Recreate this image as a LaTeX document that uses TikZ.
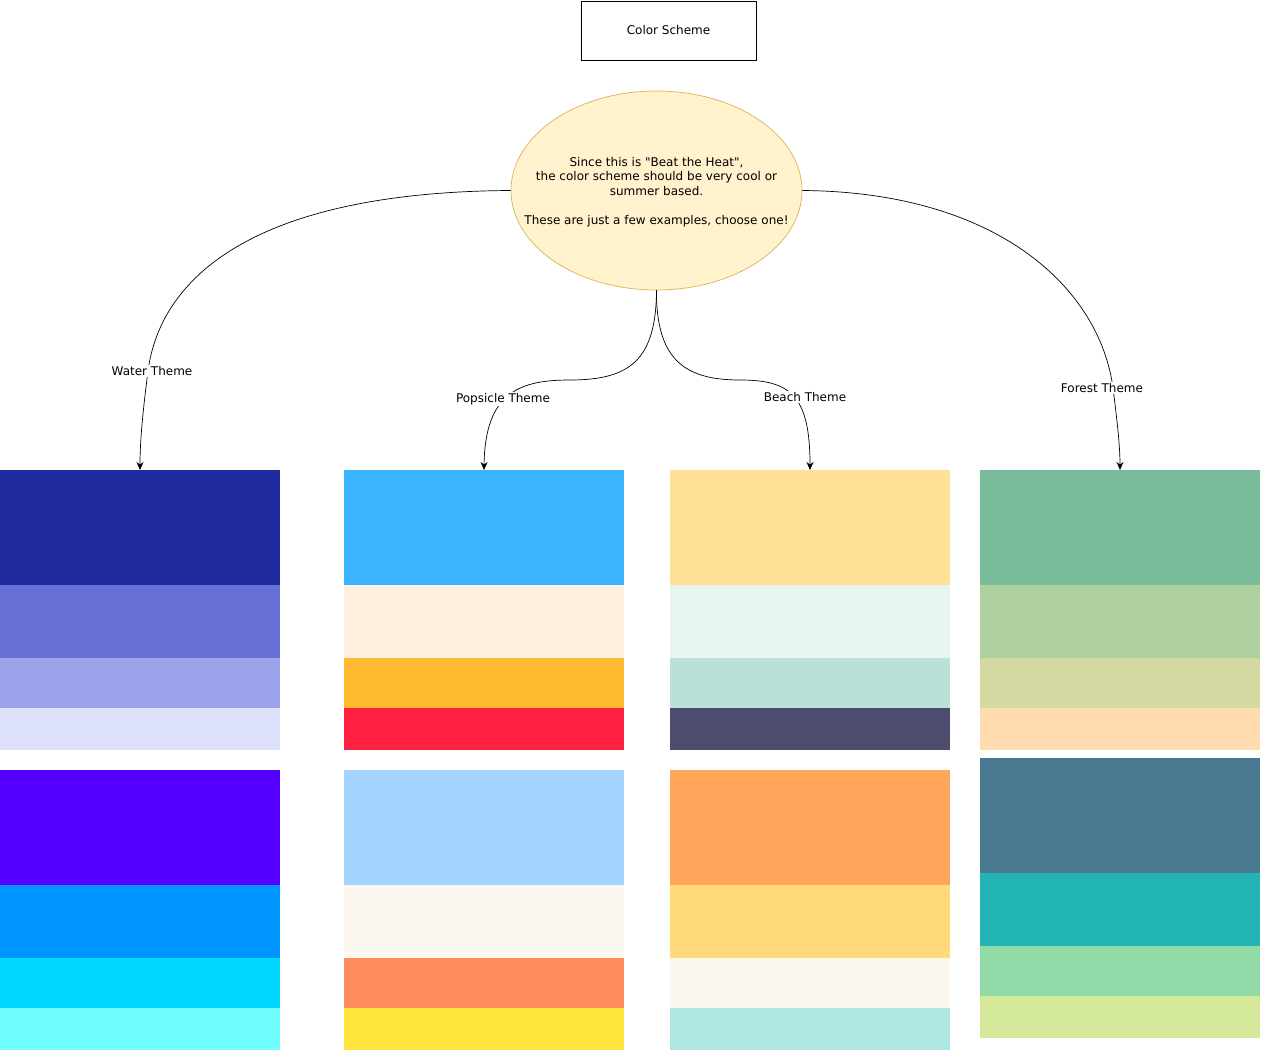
\documentclass[tikz,border=0pt]{standalone}
\usepackage{fontspec}
\setmainfont{DejaVu Sans}
\usetikzlibrary{shapes.geometric,arrows.meta}
\definecolor{wA}{HTML}{1F2A9F}\definecolor{wB}{HTML}{6770D6}\definecolor{wC}{HTML}{9CA3EA}\definecolor{wD}{HTML}{DDE1FC}
\definecolor{wE}{HTML}{5500FF}\definecolor{wF}{HTML}{0096FF}\definecolor{wG}{HTML}{00D8FF}\definecolor{wH}{HTML}{70FFFF}
\definecolor{pA}{HTML}{3BB4FF}\definecolor{pB}{HTML}{FFEFDE}\definecolor{pC}{HTML}{FFBA30}\definecolor{pD}{HTML}{FF2042}
\definecolor{pE}{HTML}{A3D3FF}\definecolor{pF}{HTML}{FCF7F0}\definecolor{pG}{HTML}{FF8A5E}\definecolor{pH}{HTML}{FFE53B}
\definecolor{bA}{HTML}{FEE196}\definecolor{bB}{HTML}{E8F5EE}\definecolor{bC}{HTML}{BAE0D8}\definecolor{bD}{HTML}{4B4C6E}
\definecolor{bE}{HTML}{FFA65A}\definecolor{bF}{HTML}{FFD97A}\definecolor{bG}{HTML}{FBF6F0}\definecolor{bH}{HTML}{AEE6E4}
\definecolor{fA}{HTML}{78BC9C}\definecolor{fB}{HTML}{AED09E}\definecolor{fC}{HTML}{D3D9A0}\definecolor{fD}{HTML}{FFDBAF}
\definecolor{fE}{HTML}{4A7890}\definecolor{fF}{HTML}{22B5B4}\definecolor{fG}{HTML}{92DAA8}\definecolor{fH}{HTML}{D5E99A}
\definecolor{noteFill}{HTML}{FFF2CC}\definecolor{noteLine}{HTML}{D6B656}
\begin{document}
\begin{tikzpicture}[x=1pt,y=-1pt,
  font=\fontsize{12pt}{14.5pt}\selectfont,
  stripe/.style={draw=none,inner sep=0pt,outer sep=0pt,minimum width=280pt,anchor=north west},
  conn/.style={draw=black,line width=0.7pt,-{Stealth[length=8pt,width=7pt]}},
  lbl/.style={fill=white,inner sep=1pt}]
\useasboundingbox (0,0) rectangle (1262,1052);
\node[draw=black,line width=0.7pt,minimum width=175pt,minimum height=59pt,inner sep=0pt] (title) at (668.5,30.5) {Color Scheme};
\node[ellipse,draw=noteLine,fill=noteFill,line width=0.7pt,minimum width=291pt,minimum height=199pt,inner sep=0pt] (heat) at (656.5,190.5) {};
\node[align=center,inner sep=0pt] (heattext) at (656.5,192) {Since this is \textquotedbl Beat the Heat\textquotedbl,\\the color scheme should be very cool or\\summer based.\\[14.5pt]These are just a few examples, choose one!};
% stripes
\newcommand{\colset}[5]{%
  \node[stripe,fill=#2A,minimum height=115pt] (#1a) at (#3,#4) {};
  \node[stripe,fill=#2B,minimum height=73pt] (#1b) at (#3,#4+115) {};
  \node[stripe,fill=#2C,minimum height=50pt] (#1c) at (#3,#4+188) {};
  \node[stripe,fill=#2D,minimum height=42pt] (#1d) at (#3,#4+238) {};
  \node[stripe,fill=#2E,minimum height=115pt] (#1e) at (#3,#5) {};
  \node[stripe,fill=#2F,minimum height=73pt] (#1f) at (#3,#5+115) {};
  \node[stripe,fill=#2G,minimum height=50pt] (#1g) at (#3,#5+188) {};
  \node[stripe,fill=#2H,minimum height=42pt] (#1h) at (#3,#5+238) {};}
\colset{w}{w}{0}{470}{770}
\colset{p}{p}{344}{470}{770}
\colset{b}{b}{670}{470}{770}
\colset{f}{f}{980}{470}{758}
% connectors
\draw[conn] (heat.west) .. controls (250,192) and (160,280) .. (148,371) .. controls (143,410) and (140,440) .. (wa.north);
\node[lbl] (lw) at (152,371) {Water Theme};
\draw[conn] (heat.east) .. controls (1000,192) and (1100,290) .. (1113,388) .. controls (1117,420) and (1120,445) .. (fa.north);
\node[lbl] (lf) at (1102,388) {Forest Theme};
\draw[conn] (heat.south) .. controls (656,360) and (630,380) .. (570,380) .. controls (520,380) and (485,392) .. (pa.north);
\node[lbl] (lp) at (503,399) {Popsicle Theme};
\draw[conn] (heat.south) .. controls (656,360) and (685,380) .. (740,380) .. controls (790,380) and (810,395) .. (ba.north);
\node[lbl] (lb) at (805,397) {Beach Theme};
\end{tikzpicture}
\end{document}
